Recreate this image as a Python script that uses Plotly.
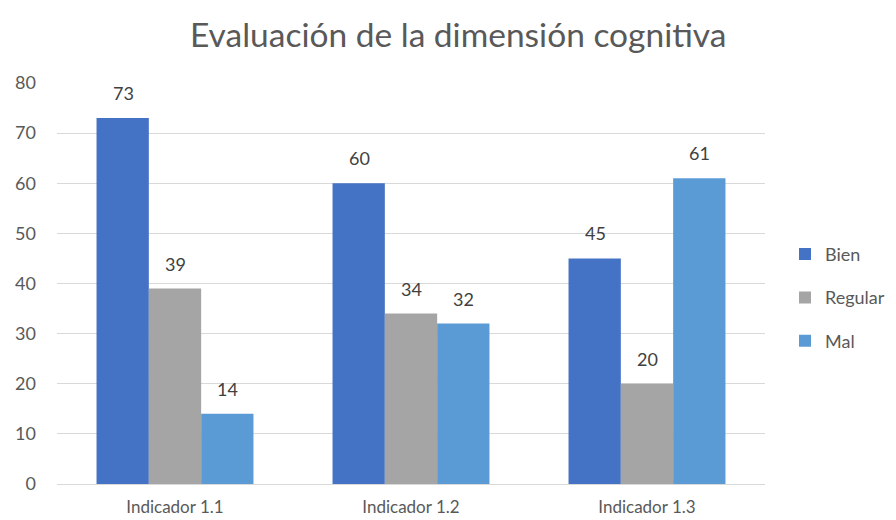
import plotly.graph_objects as go

categories = ["Indicador 1.1", "Indicador 1.2", "Indicador 1.3"]
bien = [73, 60, 45]
regular = [39, 34, 20]
mal = [14, 32, 61]
series_names = ["Bien", "Regular", "Mal"]
colors = ["#4472C4", "#A5A5A5", "#5B9BD5"]
y_ticks = [0, 10, 20, 30, 40, 50, 60, 70, 80]

FONT = "Lato, 'Open Sans', sans-serif"

fig = go.Figure()
all_series = [bien, regular, mal]
for i, (name, vals, col) in enumerate(zip(series_names, all_series, colors)):
    fig.add_trace(go.Bar(
        x=categories, y=vals, name=name, marker_color=col,
        marker_line_width=0, legendgroup=name,
    ))

# value labels above bars
offsets = [-52, 0, 52]
for vals, dx in zip(all_series, offsets):
    for c, v in zip(categories, vals):
        fig.add_annotation(x=c, y=v, text=str(v), showarrow=False,
                           xshift=dx, yshift=25, yanchor="middle",
                           font=dict(family=FONT, size=18, color="#404040"))

fig.update_layout(
    width=888, height=512,
    margin=dict(l=49, r=131, t=75, b=36, autoexpand=False),
    paper_bgcolor="white", plot_bgcolor="white",
    title=dict(text="Evaluación de la dimensión cognitiva", x=0.507, xanchor="center",
               y=0.947, yanchor="middle",
               font=dict(family=FONT, size=33.5, color="#595959")),
    barmode="group", bargap=0.335, bargroupgap=0,
    showlegend=True,
    legend=dict(xref="container", yref="container", x=0.875, xanchor="left",
                y=0.434, yanchor="middle",
                traceorder="grouped", tracegroupgap=17,
                font=dict(family=FONT, size=18, color="#595959"),
                itemwidth=30),
    font=dict(family=FONT, color="#595959"),
)
fig.update_yaxes(range=[0, 80], tickvals=y_ticks, showgrid=True, gridcolor="#D9D9D9",
                 gridwidth=1, zeroline=False, showline=False, automargin=False,
                 tickfont=dict(family=FONT, size=18, color="#595959"),
                 ticklabelstandoff=20)
fig.update_xaxes(showline=True, linecolor="#D9D9D9", linewidth=1, ticks="",
                 automargin=False,
                 tickfont=dict(family=FONT, size=17, color="#595959"),
                 ticklabelstandoff=8)

fig.write_html("out.html")
